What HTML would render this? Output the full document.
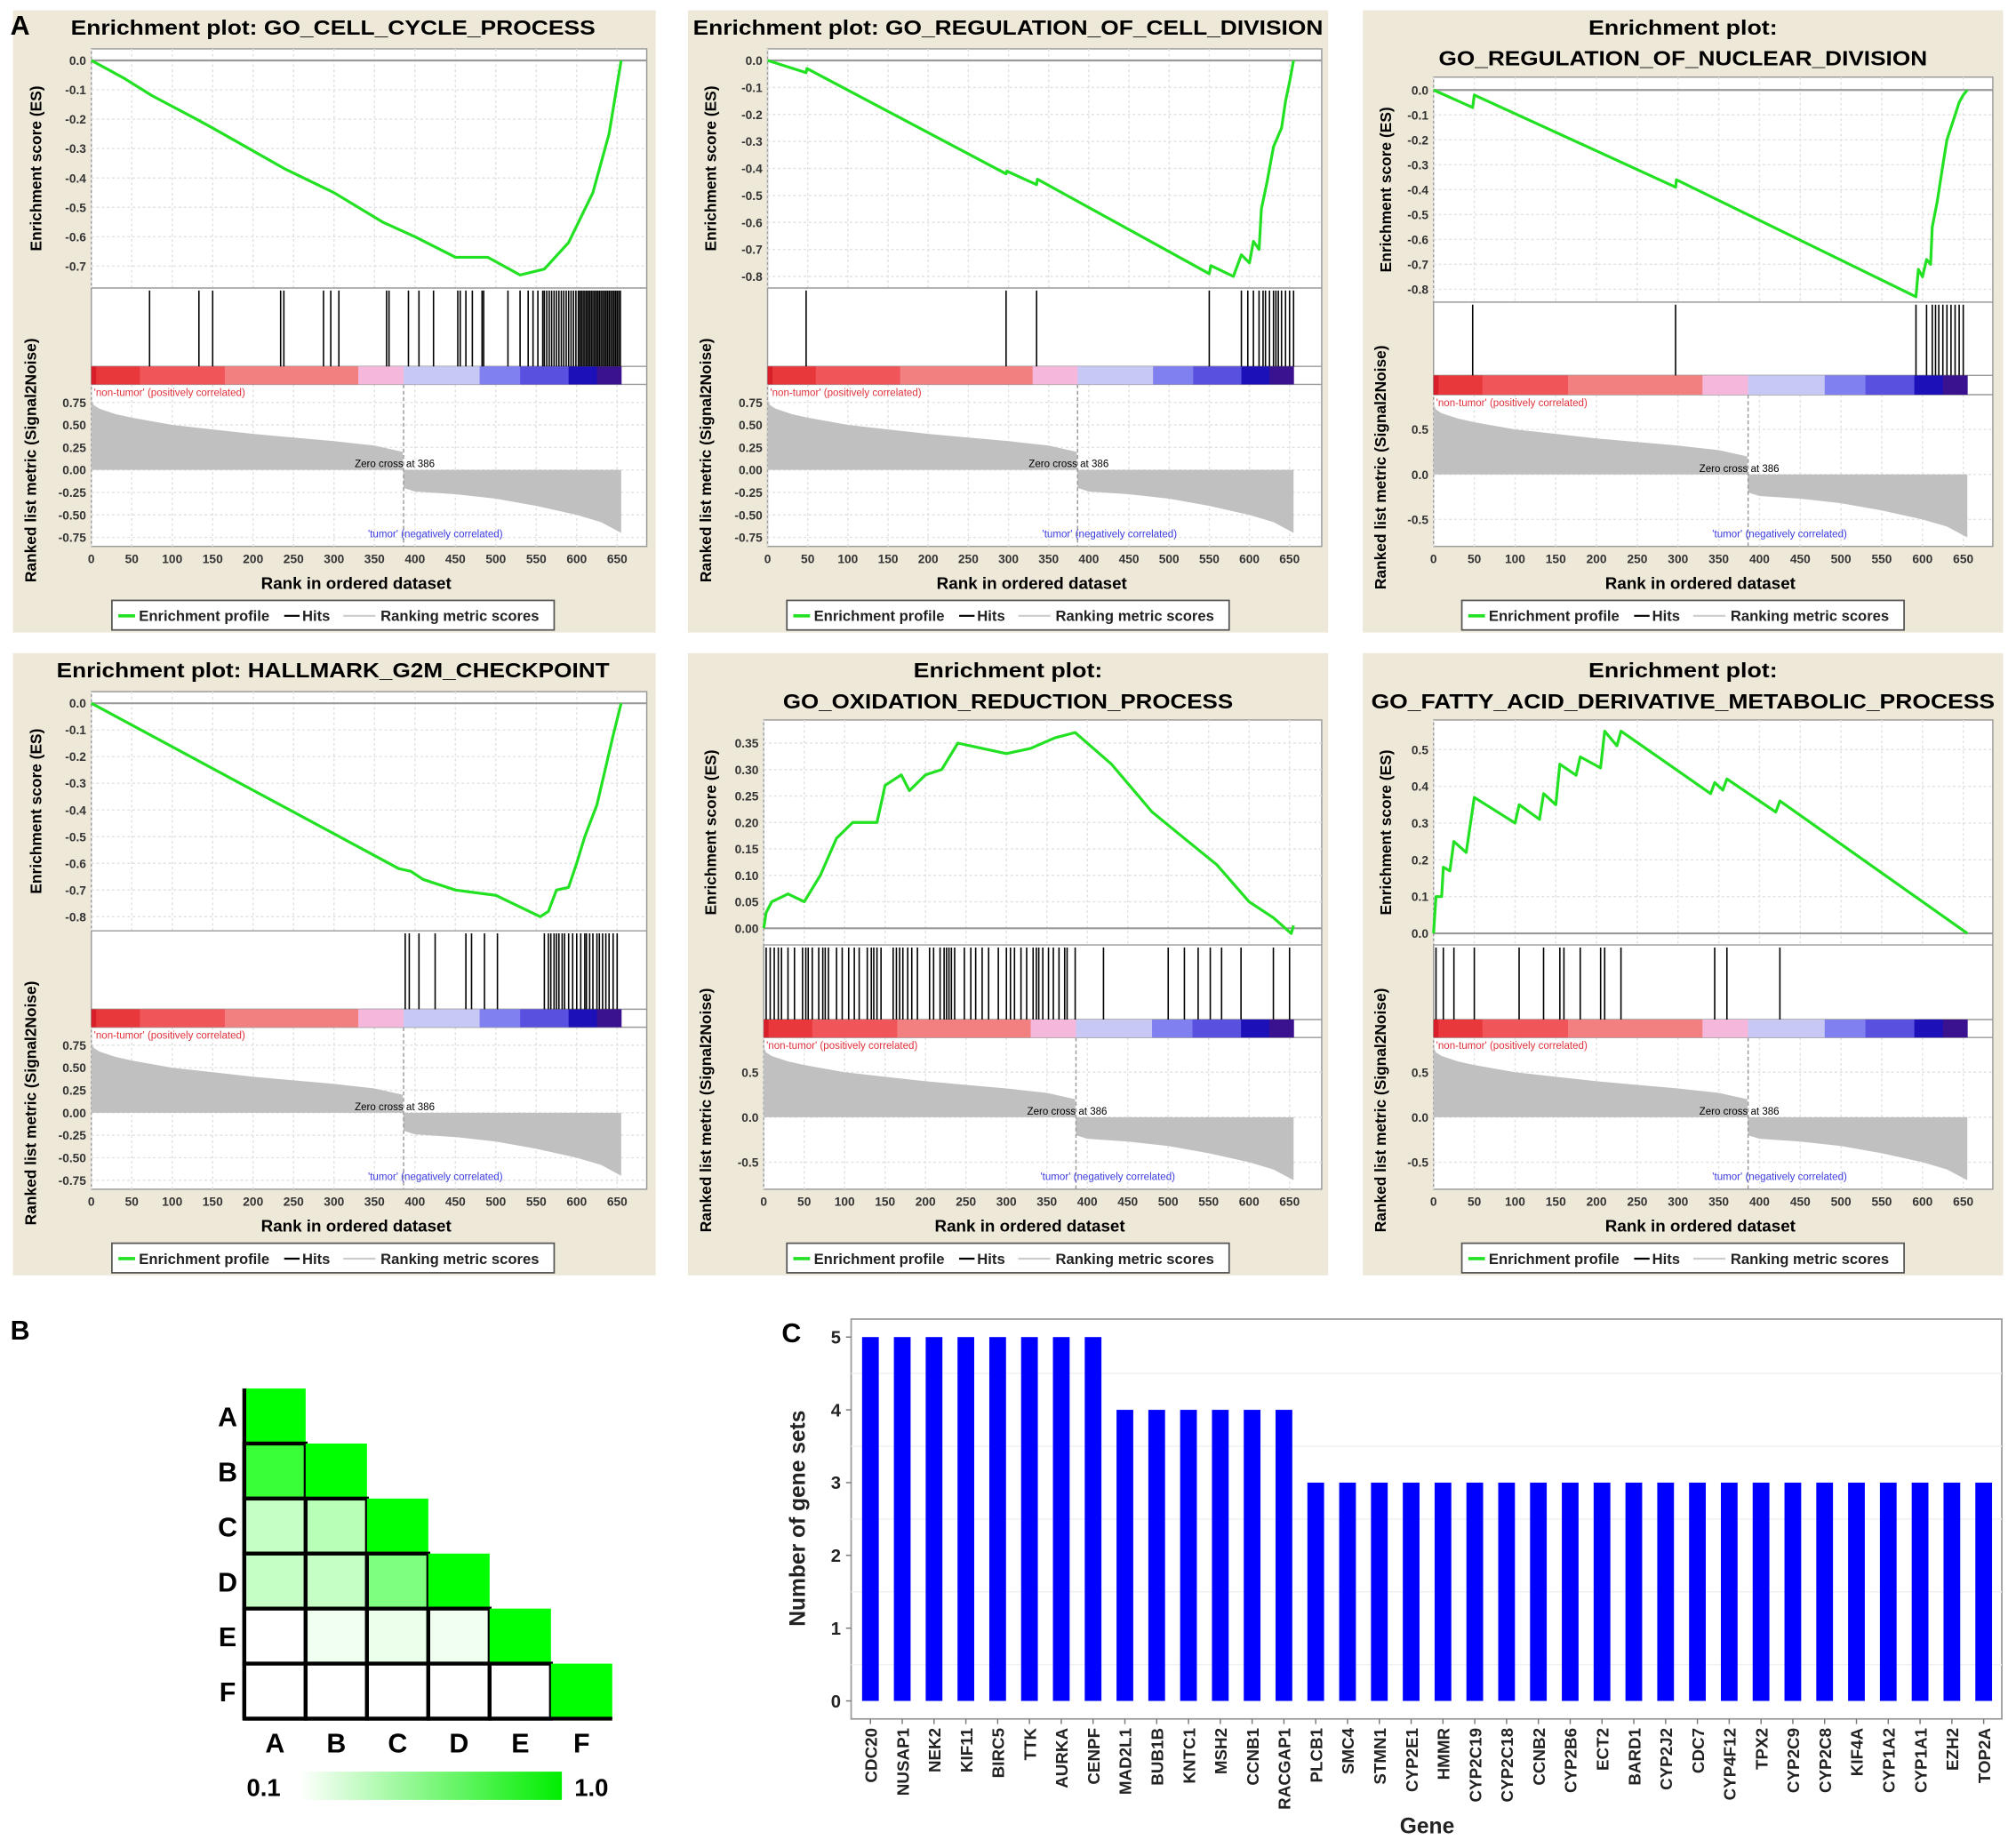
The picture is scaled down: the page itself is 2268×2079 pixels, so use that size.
<!DOCTYPE html>
<html><head><meta charset="utf-8"><style>
html,body{margin:0;padding:0;background:#fff;}
svg{display:block;font-family:"Liberation Sans",Arial,sans-serif;}
</style></head><body>
<svg id="fig" width="2268" height="2079" viewBox="0 0 1568 1437.4" xmlns="http://www.w3.org/2000/svg"></svg>
<script>
// ---------- GSEA data ----------
const xTicks=[0,50,100,150,200,250,300,350,400,450,500,550,600,650];
const metricRanks=[0,3,10,30,50,100,150,200,250,300,350,385,386,400,450,500,550,600,630,655];
const metricVals=[0.78,0.72,0.68,0.62,0.58,0.5,0.45,0.4,0.36,0.32,0.27,0.2,-0.2,-0.24,-0.27,-0.32,-0.4,-0.5,-0.58,-0.7];
const cbStops=[0,6,60,165,330,386,480,530,590,625,655];
const cbColors=['#d81e28','#e8383c','#f0555a','#f28080','#f5b8dc','#c8c8f5','#8080f0','#5a50e0','#1c10b8','#3a1290'];
const esRanks1=[0,40,75,130,150,240,300,360,400,450,490,530,560,590,620,640,655];
const esVals1=[0,-0.06,-0.12,-0.2,-0.23,-0.37,-0.45,-0.55,-0.6,-0.67,-0.67,-0.73,-0.71,-0.62,-0.45,-0.25,0];
const hits1=[72,133,150,234,238,287,296,306,365,368,392,405,423,453,456,463,471,483,485,515,530,540,546,552,558,560,563,566,569,572,575,578,581,584,587,590,593,596,599,602,604,606,608,610,612,614,616,618,620,622,624,626,628,630,632,634,636,638,640,642,644,646,648,650,652,654];
const esRanks2=[0,48,49,297,298,335,336,550,552,580,590,600,605,612,615,622,630,640,645,650,655];
const esVals2=[0,-0.045,-0.03,-0.42,-0.41,-0.46,-0.44,-0.79,-0.76,-0.8,-0.72,-0.75,-0.67,-0.7,-0.55,-0.45,-0.32,-0.25,-0.15,-0.08,0];
const hits2=[48,297,335,550,590,598,605,612,617,620,625,630,633,636,640,645,650,655];
const esRanks3=[0,48,50,297,298,592,595,600,605,610,612,618,625,630,640,645,650,655];
const esVals3=[0,-0.07,-0.02,-0.39,-0.36,-0.83,-0.72,-0.75,-0.68,-0.7,-0.55,-0.45,-0.3,-0.2,-0.1,-0.05,-0.02,0];
const hits3=[48,297,592,605,612,616,620,625,630,635,640,645,650];
const esRanks4=[0,380,395,410,450,500,555,565,575,590,600,610,625,635,645,655];
const esVals4=[0,-0.62,-0.63,-0.66,-0.7,-0.72,-0.8,-0.78,-0.7,-0.69,-0.6,-0.5,-0.38,-0.25,-0.12,0];
const hits4=[388,393,405,425,463,470,486,502,560,565,568,572,575,578,582,585,590,595,600,605,610,612,616,620,625,628,632,636,640,645,650];
const esRanks5=[0,3,10,30,50,70,90,110,140,150,170,180,200,220,240,270,300,330,360,385,430,480,520,560,600,630,652,655];
const esVals5=[0,0.03,0.05,0.065,0.05,0.1,0.17,0.2,0.2,0.27,0.29,0.26,0.29,0.3,0.35,0.34,0.33,0.34,0.36,0.37,0.31,0.22,0.17,0.12,0.05,0.02,-0.01,0.005];
const hits5=[3,8,13,18,22,30,38,48,52,55,60,68,73,76,80,90,97,105,112,118,128,133,136,140,145,160,164,168,172,178,183,190,205,210,218,223,226,229,232,236,248,256,262,270,278,290,300,305,310,318,325,333,337,340,345,352,358,365,372,375,385,420,500,520,537,552,566,590,630,650];
const esRanks6=[0,3,10,12,20,25,40,50,100,105,130,135,150,155,175,180,205,210,225,230,340,345,355,360,420,425,655];
const esVals6=[0,0.1,0.1,0.18,0.17,0.25,0.22,0.37,0.3,0.35,0.31,0.38,0.35,0.46,0.43,0.48,0.45,0.55,0.51,0.55,0.38,0.41,0.39,0.42,0.33,0.36,0];
const hits6=[3,12,25,50,105,135,155,160,180,205,210,230,345,360,425];
const esTicks1=[0,-0.1,-0.2,-0.3,-0.4,-0.5,-0.6,-0.7];
const esTicks2=[0,-0.1,-0.2,-0.3,-0.4,-0.5,-0.6,-0.7,-0.8];
const esTicks5=[0,0.05,0.1,0.15,0.2,0.25,0.3,0.35];
const esTicks6=[0,0.1,0.2,0.3,0.4,0.5];
const lowTicksA=[0.75,0.5,0.25,0,-0.25,-0.5,-0.75];
const lowTicksB=[0.5,0,-0.5];
const titles=[["Enrichment plot: GO_CELL_CYCLE_PROCESS"],["Enrichment plot: GO_REGULATION_OF_CELL_DIVISION"],["Enrichment plot:","GO_REGULATION_OF_NUCLEAR_DIVISION"],["Enrichment plot: HALLMARK_G2M_CHECKPOINT"],["Enrichment plot:","GO_OXIDATION_REDUCTION_PROCESS"],["Enrichment plot:","GO_FATTY_ACID_DERIVATIVE_METABOLIC_PROCESS"]];
// ---------- B heatmap data ----------
const hmLabels=['A','B','C','D','E','F'];
const hmValues=[[1.0],[0.8,1.0],[0.3,0.35,1.0],[0.3,0.3,0.55,1.0],[0.1,0.15,0.17,0.15,1.0],[0.1,0.1,0.1,0.1,0.1,1.0]];
// ---------- C bar data ----------
const genes=['CDC20','NUSAP1','NEK2','KIF11','BIRC5','TTK','AURKA','CENPF','MAD2L1','BUB1B','KNTC1','MSH2','CCNB1','RACGAP1','PLCB1','SMC4','STMN1','CYP2E1','HMMR','CYP2C19','CYP2C18','CCNB2','CYP2B6','ECT2','BARD1','CYP2J2','CDC7','CYP4F12','TPX2','CYP2C9','CYP2C8','KIF4A','CYP1A2','CYP1A1','EZH2','TOP2A'];
const geneCounts=[5,5,5,5,5,5,5,5,4,4,4,4,4,4,3,3,3,3,3,3,3,3,3,3,3,3,3,3,3,3,3,3,3,3,3,3];
const barTicks=[0,1,2,3,4,5];

const svg=document.getElementById('fig');
const NS='http://www.w3.org/2000/svg';
function el(tag,attrs,parent){const e=document.createElementNS(NS,tag);for(const k in attrs)e.setAttribute(k,attrs[k]);(parent||svg).appendChild(e);return e;}
function txt(s,attrs,parent){const e=el('text',attrs,parent);e.textContent=s;return e;}

const panels=[
 {bg:[10,8,500,484],tc:259,tw:[408],ty:[21],L:71,R:503,top:38,esB:224,hitB:285,cbB:299,bot:425,es:[0,47,-0.7,207],esT:esTicks1,dec:1,low:[0.75,313,-0.75,418],lowT:lowTicksA,ldec:2,x0:71,x650:480,r:esRanks1,v:esVals1,h:hits1},
 {bg:[535,8,498,484],tc:784,tw:[490],ty:[21],L:597,R:1028,top:38,esB:224,hitB:285,cbB:299,bot:425,es:[0,47,-0.8,215],esT:esTicks2,dec:1,low:[0.75,313,-0.75,418],lowT:lowTicksA,ldec:2,x0:597,x650:1003,r:esRanks2,v:esVals2,h:hits2},
 {bg:[1060,8,498,484],tc:1309,tw:[147,380],ty:[21,45],L:1115,R:1550,top:60,esB:235,hitB:292,cbB:307,bot:425,es:[0,70,-0.8,225],esT:esTicks2,dec:1,low:[0.5,334,-0.5,404],lowT:lowTicksB,ldec:1,x0:1115,x650:1527,r:esRanks3,v:esVals3,h:hits3},
 {bg:[10,508,500,484],tc:259,tw:[430],ty:[521],L:71,R:503,top:538,esB:724,hitB:785,cbB:799,bot:925,es:[0,547,-0.8,713],esT:esTicks2,dec:1,low:[0.75,813,-0.75,918],lowT:lowTicksA,ldec:2,x0:71,x650:480,r:esRanks4,v:esVals4,h:hits4},
 {bg:[535,508,498,484],tc:784,tw:[147,350],ty:[521,545],L:594,R:1028,top:560,esB:735,hitB:793,cbB:807,bot:925,es:[0.35,578,0,722],esT:esTicks5,dec:2,low:[0.5,834,-0.5,904],lowT:lowTicksB,ldec:1,x0:594,x650:1003,r:esRanks5,v:esVals5,h:hits5},
 {bg:[1060,508,498,484],tc:1309,tw:[147,485],ty:[521,545],L:1115,R:1550,top:560,esB:735,hitB:793,cbB:807,bot:925,es:[0.5,583,0,726],esT:esTicks6,dec:1,low:[0.5,834,-0.5,904],lowT:lowTicksB,ldec:1,x0:1115,x650:1527,r:esRanks6,v:esVals6,h:hits6}
];

panels.forEach((p,i)=>{
 const g=el('g',{});
 
 
 const xs=r=>p.x0+(r/650)*(p.x650-p.x0);
 const ys=v=>p.es[1]+(v-p.es[0])*(p.es[3]-p.es[1])/(p.es[2]-p.es[0]);
 const yl=v=>p.low[1]+(v-p.low[0])*(p.low[3]-p.low[1])/(p.low[2]-p.low[0]);
 const bg=el('rect',{x:p.bg[0],y:p.bg[1],width:p.bg[2],height:p.bg[3],fill:'#eee8d8'},g);
 
 
 titles[i].forEach((t,j)=>{
  const tt=txt(t,{x:p.tc,y:p.ty[j]+6,'text-anchor':'middle','font-size':16,'font-weight':'bold',textLength:p.tw[j],lengthAdjust:'spacingAndGlyphs'},g);
  
  
 });
 const fr=el('rect',{x:p.L,y:p.top,width:p.R-p.L,height:p.bot-p.top,fill:'#fff',stroke:'#999','stroke-width':1},g);
 
 
 xTicks.forEach(t=>{
  const gl=el('line',{x1:xs(t),x2:xs(t),y1:p.top,y2:p.esB,stroke:'#e2e2e2','stroke-dasharray':'2,2'},g);
  
  
  const gl2=el('line',{x1:xs(t),x2:xs(t),y1:p.cbB,y2:p.bot,stroke:'#e2e2e2','stroke-dasharray':'2,2'},g);
  
  
  const tl=txt(String(t),{x:xs(t),y:p.bot+13,'text-anchor':'middle','font-size':9.5,'font-weight':'bold',fill:'#333'},g);
  
  
 });
 p.esT.forEach(t=>{
  const gl=el('line',{x1:p.L,x2:p.R,y1:ys(t),y2:ys(t),stroke:t===0?'#999':'#e2e2e2','stroke-dasharray':t===0?'':'2,2','stroke-width':t===0?1.5:1},g);
  
  
  const tl=txt(t.toFixed(p.dec),{x:p.L-4,y:ys(t)+3.5,'text-anchor':'end','font-size':9.5,'font-weight':'bold',fill:'#333'},g);
  
  
 });
 p.lowT.forEach(t=>{
  const gl=el('line',{x1:p.L,x2:p.R,y1:yl(t),y2:yl(t),stroke:'#e2e2e2','stroke-dasharray':'2,2'},g);
  
  
  const tl=txt(t.toFixed(p.ldec),{x:p.L-4,y:yl(t)+3.5,'text-anchor':'end','font-size':9.5,'font-weight':'bold',fill:'#333'},g);
  
  
 });
 [p.esB,p.hitB,p.cbB].forEach(y=>{
  const sl=el('line',{x1:p.L,x2:p.R,y1:y,y2:y,stroke:'#999'},g);
  
  
 });
 let pts=[];
 metricRanks.forEach((r,k)=>pts.push(xs(r)+','+yl(metricVals[k])));
 const area=el('polygon',{points:xs(0)+','+yl(0)+' '+xs(385)+','+yl(0)+' '+xs(386)+','+yl(0)+' '+xs(655)+','+yl(0)+' '+pts.reverse().join(' '),fill:'#c0c0c0'},g);
 
 
 const zl=el('line',{x1:xs(386),x2:xs(386),y1:p.cbB,y2:p.bot,stroke:'#999','stroke-dasharray':'3,2'},g);
 
 
 const z=txt('Zero cross at 386',{x:xs(386)-38,y:yl(0)-2,'font-size':8},g);
 
 
 const nt=txt("'non-tumor' (positively correlated)",{x:p.L+2,y:p.cbB+9,'font-size':8,fill:'#e0303a'},g);
 
 
 const tu=txt("'tumor' (negatively correlated)",{x:xs(342),y:p.bot-7,'font-size':8,fill:'#3a3ae0'},g);
 
 
 cbColors.forEach((c,k)=>{
  const cb=el('rect',{x:xs(cbStops[k]),y:p.hitB,width:xs(cbStops[k+1])-xs(cbStops[k])+0.3,height:p.cbB-p.hitB,fill:c},g);
  
  
 });
 p.h.forEach(r=>{
  const hl=el('line',{x1:xs(r),x2:xs(r),y1:p.esB+2,y2:p.hitB,stroke:'#000','stroke-width':1.1},g);
  
  
 });
 const cp=p.r.map((r,k)=>xs(r).toFixed(1)+','+ys(p.v[k]).toFixed(1)).join(' ');
 const line=el('polyline',{points:cp,fill:'none',stroke:'#22e022','stroke-width':2.2,'stroke-linejoin':'round'},g);
 
 
 const xt=txt('Rank in ordered dataset',{x:(p.L+p.R)/2-10,y:p.bot+33,'text-anchor':'middle','font-size':13,'font-weight':'bold'},g);
 
 
 const ex=p.bg[0]+22, ey=(p.top+p.esB)/2;
 const et=txt('Enrichment score (ES)',{x:ex,y:ey,'text-anchor':'middle','font-size':12,'font-weight':'bold',transform:'rotate(-90 '+ex+' '+ey+')'},g);
 
 
 const rx=p.bg[0]+18, ry=(p.esB+p.bg[1]+p.bg[3])/2;
 const rt=txt('Ranked list metric (Signal2Noise)',{x:rx,y:ry,'text-anchor':'middle','font-size':12,'font-weight':'bold',transform:'rotate(-90 '+rx+' '+ry+')'},g);
 
 
 const lx=p.bg[0]+77, ly=p.bot+42;
 const lg=el('g',{},g);
 
 
 el('rect',{x:lx,y:ly,width:344,height:23,fill:'#fff',stroke:'#555','stroke-width':1.2},lg);
 el('line',{x1:lx+5,x2:lx+18,y1:ly+12,y2:ly+12,stroke:'#22e022','stroke-width':2.5},lg);
 txt('Enrichment profile',{x:lx+21,y:ly+16,'font-size':11.5,'font-weight':'bold',fill:'#222'},lg);
 el('line',{x1:lx+134,x2:lx+146,y1:ly+12,y2:ly+12,stroke:'#000','stroke-width':1.5},lg);
 txt('Hits',{x:lx+148,y:ly+16,'font-size':11.5,'font-weight':'bold',fill:'#222'},lg);
 el('line',{x1:lx+180,x2:lx+205,y1:ly+12,y2:ly+12,stroke:'#ccc','stroke-width':1.5},lg);
 txt('Ranking metric scores',{x:lx+209,y:ly+16,'font-size':11.5,'font-weight':'bold',fill:'#222'},lg);
});
const lA=txt('A',{x:8,y:27,'font-size':21,'font-weight':'bold'});



// ---------- Panel B ----------
const lB=txt('B',{x:8,y:1042,'font-size':21,'font-weight':'bold'});


const hmX0=190, hmY0=1080, cw=47.7, ch=42.8;
function hmColor(v){const t=Math.max(0,Math.min(1,(v-0.1)/0.9));const c=Math.round(255*(1-t));return 'rgb('+c+',255,'+c+')';}
hmValues.forEach((row,i)=>{
 row.forEach((v,j)=>{
  const diag=i===j;
  const c=el('rect',{x:hmX0+j*cw,y:hmY0+i*ch,width:cw,height:ch,fill:diag?'#00ff00':hmColor(v),stroke:diag?'none':'#000','stroke-width':3});
  
  
 });
 const rl=txt(hmLabels[i],{x:177,y:hmY0+i*ch+ch/2+8,'text-anchor':'middle','font-size':21,'font-weight':'bold'});
 
 
 const cl=txt(hmLabels[i],{x:hmX0+i*cw+cw/2,y:1363,'text-anchor':'middle','font-size':21,'font-weight':'bold'});
 
 
});
el('line',{x1:hmX0,x2:hmX0+6*cw,y1:hmY0+6*ch,y2:hmY0+6*ch,stroke:'#000','stroke-width':3});
el('line',{x1:hmX0,x2:hmX0,y1:hmY0,y2:hmY0+6*ch,stroke:'#000','stroke-width':3});
const defs=el('defs',{});
const grad=el('linearGradient',{id:'gg',x1:0,x2:1,y1:0,y2:0},defs);
el('stop',{offset:0,'stop-color':'#ffffff'},grad);
el('stop',{offset:1,'stop-color':'#00ee00'},grad);
const cbar=el('rect',{x:233,y:1378,width:204,height:22,fill:'url(#gg)'});


const c1=txt('0.1',{x:205,y:1397,'text-anchor':'middle','font-size':19,'font-weight':'bold'});


const c2=txt('1.0',{x:460,y:1397,'text-anchor':'middle','font-size':19,'font-weight':'bold'});



// ---------- Panel C ----------
const lC=txt('C',{x:608,y:1044,'font-size':21,'font-weight':'bold'});


const bL=662,bR=1557,bT=1026,bB=1337;
const by=v=>1323-v*(1323-1040)/5;
const bx=i=>677+i*24.74;
const bf=el('rect',{x:bL,y:bT,width:bR-bL,height:bB-bT,fill:'#fff',stroke:'#999','stroke-width':1.2});


[0.5,1.5,2.5,3.5,4.5].forEach(v=>{el('line',{x1:bL,x2:bR,y1:by(v),y2:by(v),stroke:'#f0f0f0'});});
barTicks.forEach(t=>{
 el('line',{x1:bL-4,x2:bL,y1:by(t),y2:by(t),stroke:'#777'});
 const tl=txt(String(t),{x:bL-8,y:by(t)+5,'text-anchor':'end','font-size':14,'font-weight':'bold',fill:'#222'});
 
 
});
genes.forEach((g,i)=>{
 const b=el('rect',{x:bx(i)-6.5,y:by(geneCounts[i]),width:13,height:by(0)-by(geneCounts[i]),fill:'#0000ff'});
 
 
 el('line',{x1:bx(i),x2:bx(i),y1:bB,y2:bB+4,stroke:'#777'});
 const gl=txt(g,{x:bx(i)+5,y:bB+7,'text-anchor':'end','font-size':13,'font-weight':'bold',fill:'#222',transform:'rotate(-90 '+(bx(i)+5)+' '+(bB+7)+')'});
 
 
});
const yt=txt('Number of gene sets',{x:626,y:1181,'text-anchor':'middle','font-size':17,'font-weight':'bold',fill:'#222',transform:'rotate(-90 626 1181)'});


const gt=txt('Gene',{x:1110,y:1426,'text-anchor':'middle','font-size':17,'font-weight':'bold',fill:'#222'});


</script>
</body></html>
